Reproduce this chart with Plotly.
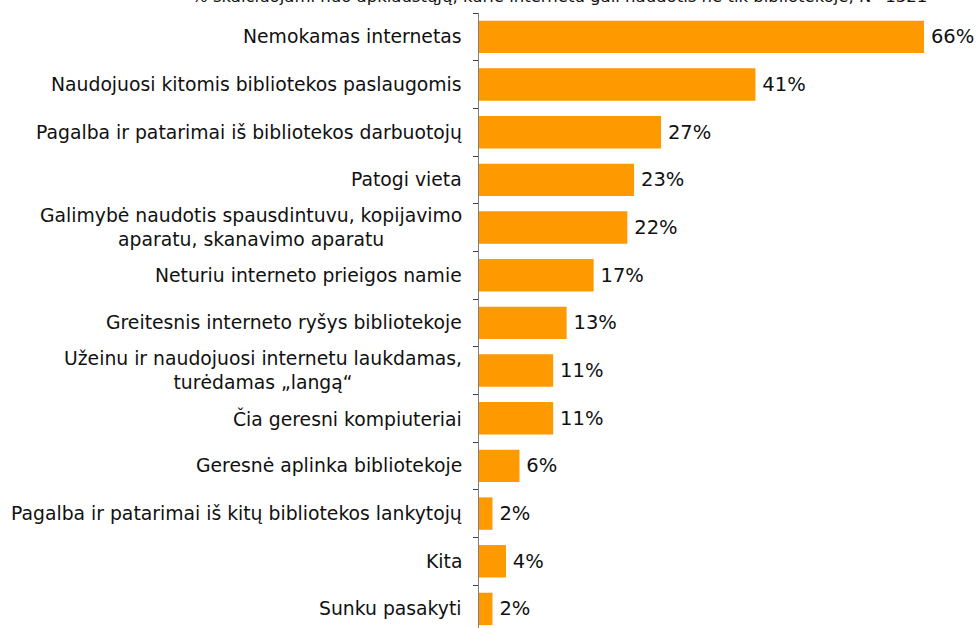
import plotly.graph_objects as go

categories = [
    "Nemokamas internetas",
    "Naudojuosi kitomis bibliotekos paslaugomis",
    "Pagalba ir patarimai iš bibliotekos darbuotojų",
    "Patogi vieta",
    "Galimybė naudotis spausdintuvu, kopijavimo<br>aparatu, skanavimo aparatu",
    "Neturiu interneto prieigos namie",
    "Greitesnis interneto ryšys bibliotekoje",
    "Užeinu ir naudojuosi internetu laukdamas,<br>turėdamas „langą“",
    "Čia geresni kompiuteriai",
    "Geresnė aplinka bibliotekoje",
    "Pagalba ir patarimai iš kitų bibliotekos lankytojų",
    "Kita",
    "Sunku pasakyti",
]
values = [66, 41, 27, 23, 22, 17, 13, 11, 11, 6, 2, 4, 2]
value_labels = ["66%", "41%", "27%", "23%", "22%", "17%", "13%", "11%", "11%", "6%", "2%", "4%", "2%"]
note = "% skaičiuojami nuo apklaustųjų, kurie internetu gali naudotis ne tik bibliotekoje, N=1321"

FONT = "DejaVu Sans"
TXT = "#111111"

fig = go.Figure(
    go.Bar(
        x=values,
        y=categories,
        orientation="h",
        marker=dict(color="#FF9900", line=dict(width=0)),
        text=["\u2009" + t for t in value_labels],
        textposition="outside",
        textfont=dict(family=FONT, size=19.5, color=TXT),
        cliponaxis=False,
        width=0.68,
        hoverinfo="skip",
    )
)

annotations = [
    dict(
        text=c,
        xref="x",
        yref="y",
        x=0,
        y=c,
        xanchor="right",
        yanchor="middle",
        align="center",
        xshift=-15,
        showarrow=False,
        font=dict(family=FONT, size=18.8, color=TXT),
    )
    for c in categories
]
annotations.append(
    dict(
        text=note,
        xref="paper",
        yref="paper",
        x=(559 - 479) / 501,
        y=1,
        yshift=5,
        xanchor="center",
        yanchor="bottom",
        showarrow=False,
        font=dict(family=FONT, size=16.5, color=TXT),
    )
)

fig.update_layout(
    width=980,
    height=628,
    margin=dict(l=479, r=0, t=13, b=0, autoexpand=False),
    paper_bgcolor="white",
    plot_bgcolor="white",
    showlegend=False,
    font=dict(family=FONT, size=18, color=TXT),
    xaxis=dict(
        range=[0, 74.3],
        visible=False,
        showgrid=False,
        zeroline=False,
        automargin=False,
    ),
    yaxis=dict(
        type="category",
        range=[12.4, -0.5],
        showline=True,
        linecolor="#7f7f7f",
        linewidth=1,
        ticks="outside",
        ticklen=5,
        tickcolor="#404040",
        tickson="boundaries",
        showgrid=False,
        showticklabels=False,
        automargin=False,
    ),
    annotations=annotations,
)

fig.write_html(
    "out.html",
    config={"displayModeBar": False},
    post_script="document.body.style.margin='0';document.body.style.overflow='hidden';",
)
